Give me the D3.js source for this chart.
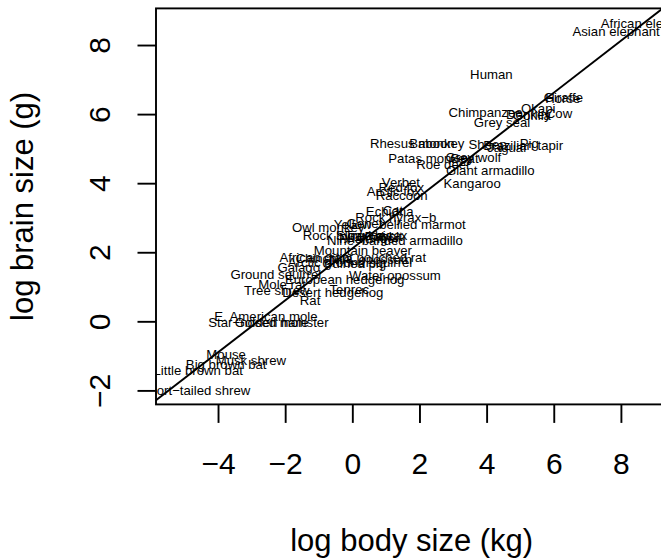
<!DOCTYPE html>
<html>
<head>
<meta charset="utf-8">
<script src="https://cdn.jsdelivr.net/npm/d3@7"></script>
<style>
  body { margin: 0; background: #fff; }
  text { font-family: "Liberation Sans", Arial, Helvetica, sans-serif; }
</style>
</head>
<body>
<div id="chart"></div>
<script>
// MASS::mammals  (body in kg, brain in g)
var species = ["Arctic fox", "Owl monkey", "Mountain beaver", "Cow", "Grey wolf", "Goat",
  "Roe deer", "Guinea pig", "Verbet", "Chinchilla", "Ground squirrel", "Arctic ground squirrel",
  "African giant pouched rat", "Lesser short-tailed shrew", "Star-nosed mole",
  "Nine-banded armadillo", "Tree hyrax", "N.A. opossum", "Asian elephant", "Big brown bat",
  "Donkey", "Horse", "European hedgehog", "Patas monkey", "Cat", "Galago", "Genet", "Giraffe",
  "Gorilla", "Grey seal", "Rock hyrax-a", "Human", "African elephant", "Water opossum",
  "Rhesus monkey", "Kangaroo", "Yellow-bellied marmot", "Golden hamster", "Mouse",
  "Little brown bat", "Slow loris", "Okapi", "Rabbit", "Sheep", "Jaguar", "Chimpanzee",
  "Baboon", "Desert hedgehog", "Giant armadillo", "Rock hyrax-b", "Raccoon", "Rat",
  "E. American mole", "Mole rat", "Musk shrew", "Pig", "Echidna", "Brazilian tapir",
  "Tenrec", "Phalanger", "Tree shrew", "Red fox"];

var bodyKg = [3.385, 0.48, 1.35, 465, 36.33, 27.66, 14.83, 1.04, 4.19, 0.425, 0.101, 0.92,
  1, 0.005, 0.06, 3.5, 2, 1.7, 2547, 0.023, 187.1, 521, 0.785, 10, 3.3, 0.2, 1.41, 529,
  207, 85, 0.75, 62, 6654, 3.5, 6.8, 35, 4.05, 0.12, 0.023, 0.01, 1.4, 250, 2.5, 55.5,
  100, 52.16, 10.55, 0.55, 60, 3.6, 4.288, 0.28, 0.075, 0.122, 0.048, 192, 3, 160, 0.9,
  1.62, 0.104, 4.235];

var brainG = [44.5, 15.5, 8.1, 423, 119.5, 115, 98.2, 5.5, 58, 6.4, 4, 5.7, 6.6, 0.14, 1,
  10.8, 12.3, 6.3, 4603, 0.3, 419, 655, 3.5, 115, 25.6, 5, 17.5, 680, 406, 325, 12.3,
  1320, 5712, 3.9, 179, 56, 17, 1, 0.4, 0.25, 12.5, 490, 12.1, 175, 157, 440, 179.5, 2.4,
  81, 21, 39.2, 1.9, 1.2, 3, 0.33, 180, 25, 169, 2.6, 11.4, 2.5, 50.4];

var xTicks = [-4, -2, 0, 2, 4, 6, 8];
var yTicks = [-2, 0, 2, 4, 6, 8];

function init(){
    var W = 661, H = 560;
    var left = 156, top = 8.4, right = 667.3, bottom = 404.4;

    var data = species.map(function(s, i){
        return {name: s, x: Math.log(bodyKg[i]), y: Math.log(brainG[i])};
    });

    // R style 4% padding on the data range
    function padded(ext){
        var d = (ext[1] - ext[0]) * 0.04;
        return [ext[0] - d, ext[1] + d];
    }
    var xScale = d3.scaleLinear()
        .domain(padded(d3.extent(data, function(d){ return d.x; })))
        .range([left, right]);
    var yScale = d3.scaleLinear()
        .domain(padded(d3.extent(data, function(d){ return d.y; })))
        .range([bottom, top]);

    // least squares fit  log(brain) ~ log(body)
    var mx = d3.mean(data, function(d){ return d.x; });
    var my = d3.mean(data, function(d){ return d.y; });
    var sxy = d3.sum(data, function(d){ return (d.x - mx) * (d.y - my); });
    var sxx = d3.sum(data, function(d){ return (d.x - mx) * (d.x - mx); });
    var slope = sxy / sxx, icpt = my - slope * mx;

    var svg = d3.select('#chart').append('svg')
        .attr('width', W).attr('height', H);

    svg.append('rect').attr('width', W).attr('height', H).attr('fill', '#fff');

    svg.append('clipPath').attr('id', 'plotclip')
        .append('rect')
        .attr('x', left).attr('y', top)
        .attr('width', right - left).attr('height', bottom - top);

    var plot = svg.append('g').attr('clip-path', 'url(#plotclip)');

    plot.selectAll('text.lab')
        .data(data)
        .enter()
        .append('text')
        .attr('class', 'lab')
        .attr('x', function(d){ return xScale(d.x); })
        .attr('y', function(d){ return yScale(d.y); })
        .attr('dy', '0.4em')
        .attr('text-anchor', 'middle')
        .attr('font-size', '13.2px')
        .attr('fill', '#000')
        .text(function(d){ return d.name.replace(/-/g, '\u2212'); });

    var xd = xScale.domain();
    plot.append('line')
        .attr('x1', xScale(xd[0])).attr('y1', yScale(icpt + slope * xd[0]))
        .attr('x2', xScale(xd[1])).attr('y2', yScale(icpt + slope * xd[1]))
        .attr('stroke', '#000').attr('stroke-width', 1.9);

    // box
    svg.append('rect')
        .attr('x', left).attr('y', top)
        .attr('width', right - left).attr('height', bottom - top)
        .attr('fill', 'none').attr('stroke', '#000').attr('stroke-width', 1.9);

    var fmt = d3.format('d');

    // x axis ticks
    svg.selectAll('line.xt')
        .data(xTicks).enter().append('line')
        .attr('x1', function(d){ return xScale(d); })
        .attr('x2', function(d){ return xScale(d); })
        .attr('y1', bottom).attr('y2', bottom + 18.5)
        .attr('stroke', '#000').attr('stroke-width', 1.9);
    svg.selectAll('text.xt')
        .data(xTicks).enter().append('text')
        .attr('x', function(d){ return xScale(d); })
        .attr('y', 474)
        .attr('text-anchor', 'middle')
        .attr('font-size', '30px')
        .text(function(d){ return fmt(d); });

    // y axis ticks
    svg.selectAll('line.yt')
        .data(yTicks).enter().append('line')
        .attr('x1', left).attr('x2', left - 18.5)
        .attr('y1', function(d){ return yScale(d); })
        .attr('y2', function(d){ return yScale(d); })
        .attr('stroke', '#000').attr('stroke-width', 1.9);
    svg.selectAll('text.yt')
        .data(yTicks).enter().append('text')
        .attr('transform', function(d){ return 'translate(110,' + yScale(d) + ') rotate(-90)'; })
        .attr('text-anchor', 'middle')
        .attr('font-size', '30px')
        .text(function(d){ return fmt(d); });

    // axis titles
    svg.append('text')
        .attr('x', (left + right) / 2).attr('y', 551)
        .attr('text-anchor', 'middle')
        .attr('font-size', '31px')
        .text('log body size (kg)');
    svg.append('text')
        .attr('transform', 'translate(33,' + (top + bottom) / 2 + ') rotate(-90)')
        .attr('text-anchor', 'middle')
        .attr('font-size', '31px')
        .text('log brain size (g)');
}

window.onload = init;
</script>
</body>
</html>
